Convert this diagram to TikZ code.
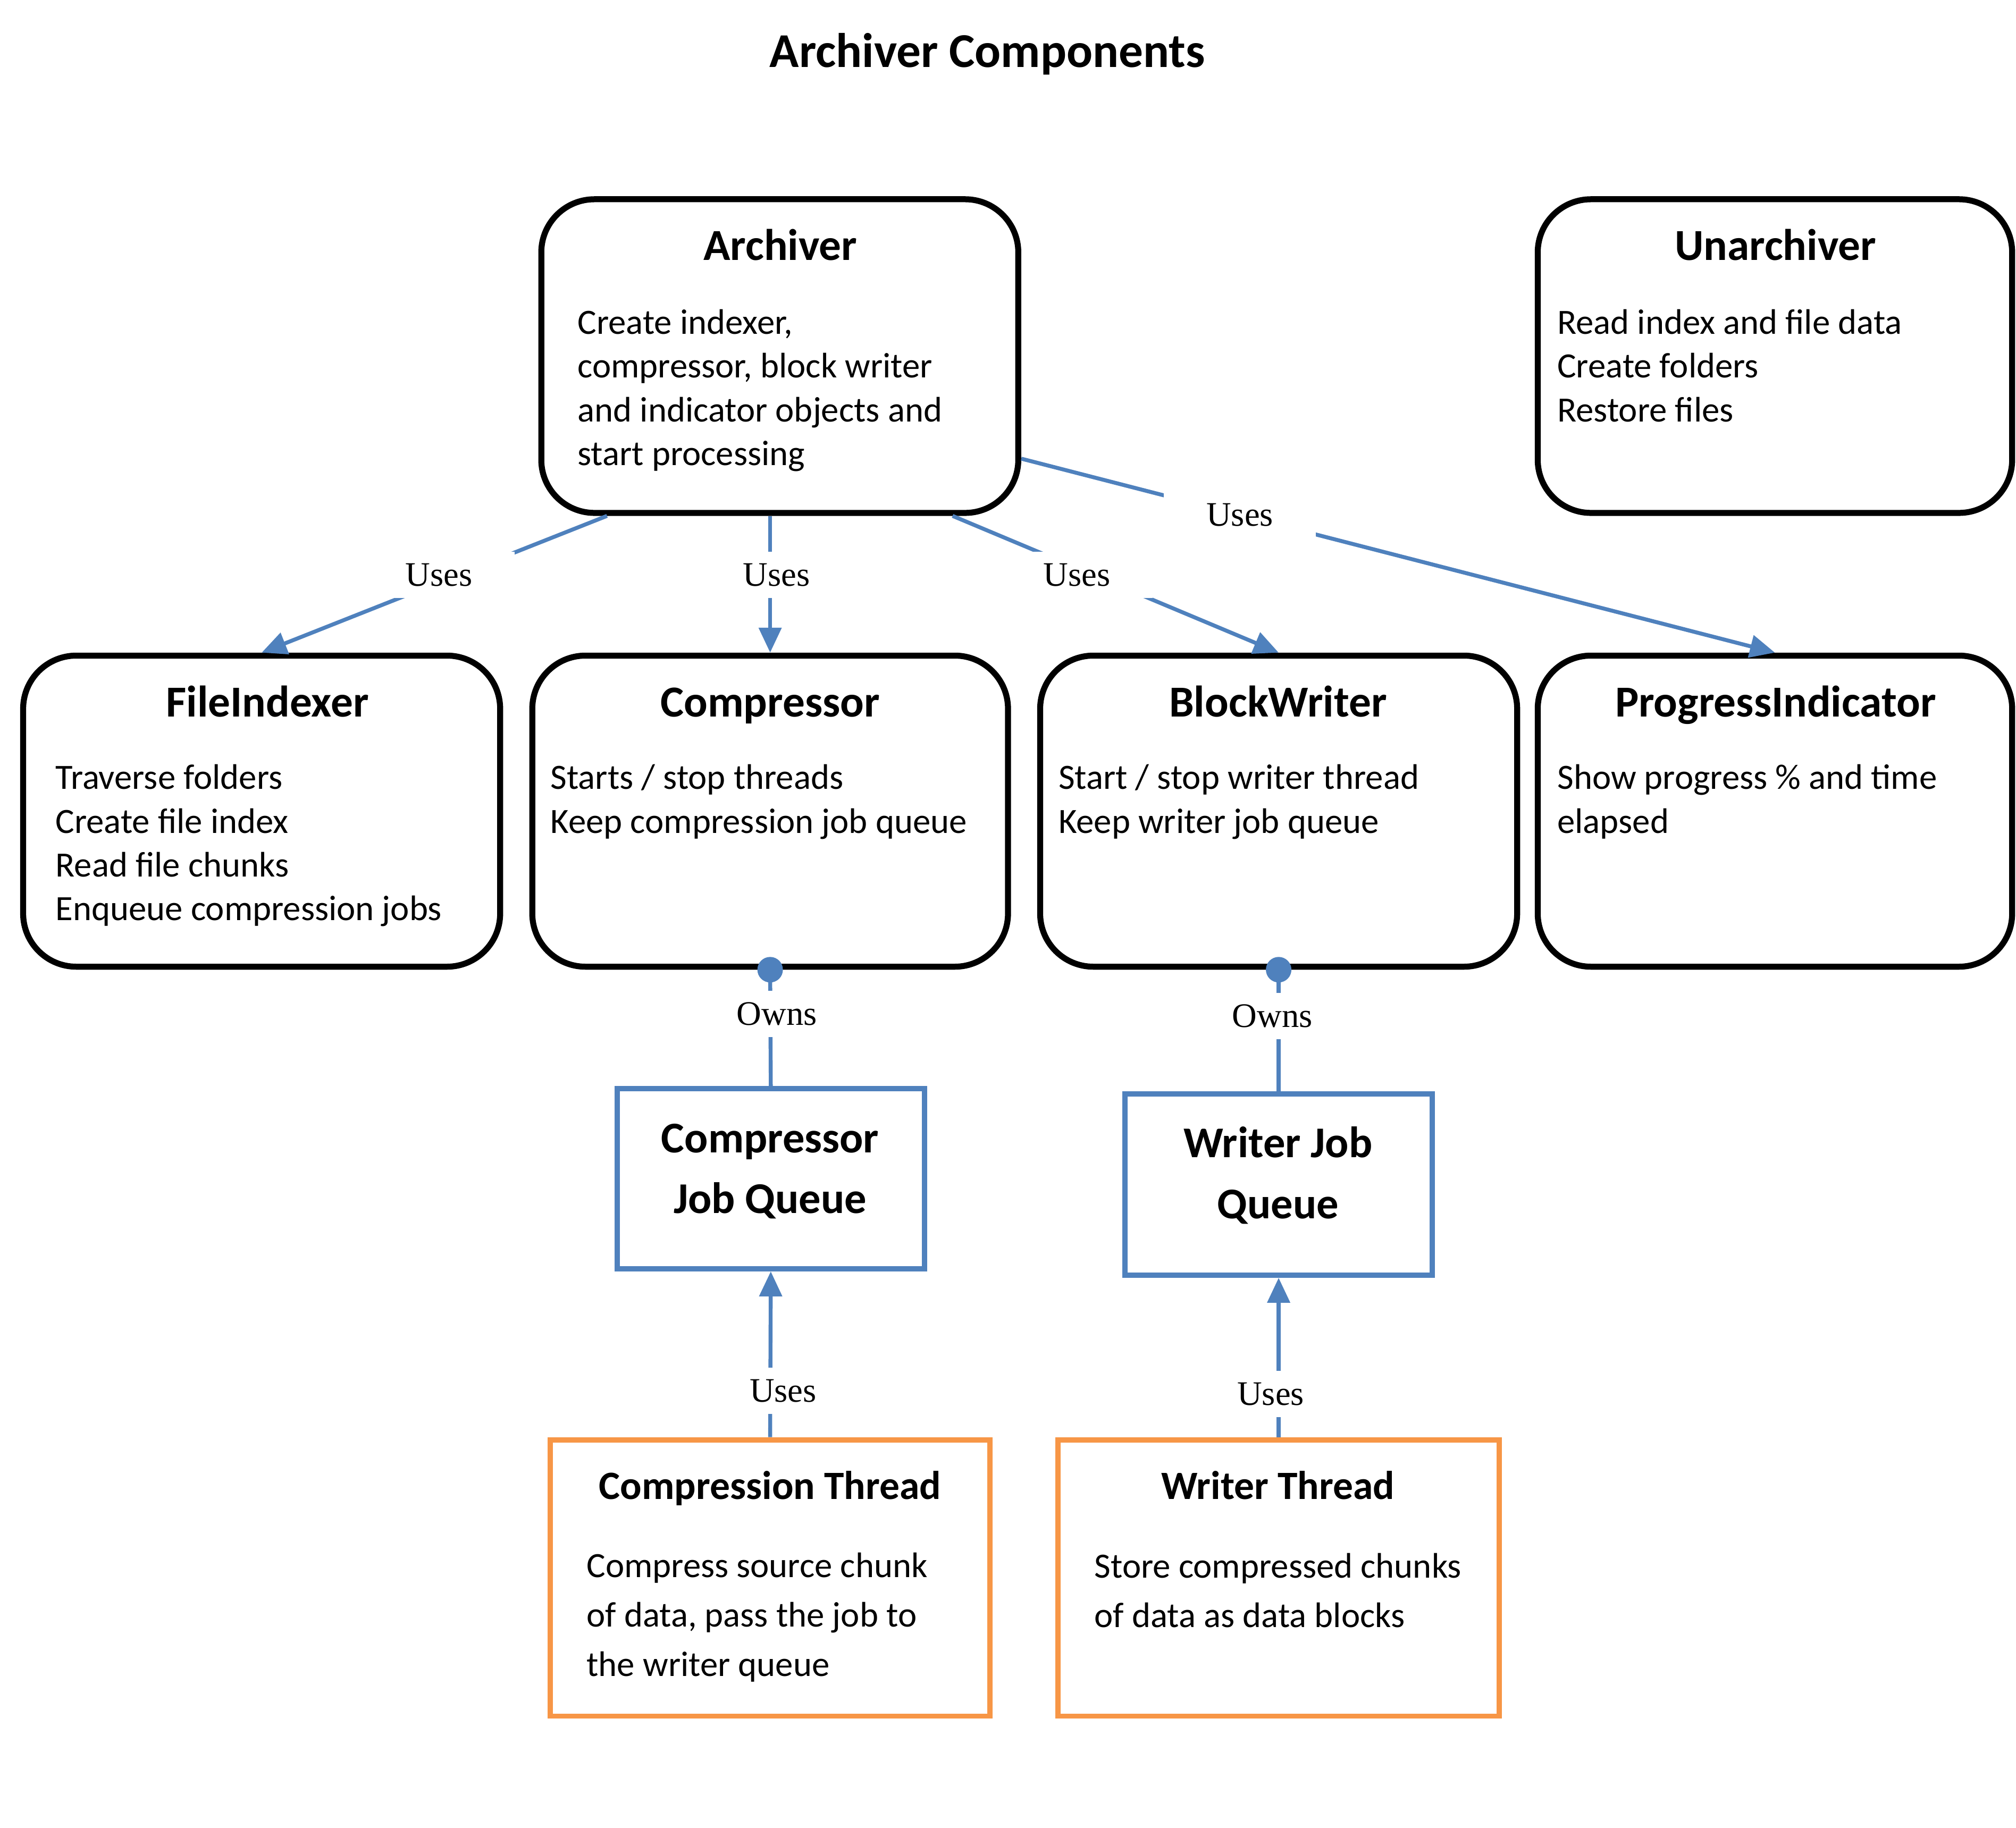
\documentclass[tikz,border=0pt]{standalone}
\usepackage{fontspec}
\setmainfont{Carlito}
\newfontfamily\lblfont{Liberation Serif}
\usetikzlibrary{arrows.meta,fit}
\definecolor{oblue}{HTML}{4F81BD}
\definecolor{oorange}{HTML}{F79646}
\begin{document}
\begin{tikzpicture}[x=0.02418cm,y=-0.02418cm,
 compbox/.style={draw=black,line width=3.2pt,rounded corners=1cm,inner sep=0pt},
 queuebox/.style={draw=oblue,line width=2.8pt,inner sep=0pt},
 threadbox/.style={draw=oorange,line width=2.8pt,inner sep=0pt},
 ttl/.style={font=\bfseries\fontsize{23.7}{28}\selectfont,anchor=mid,inner sep=0pt},
 thttl/.style={font=\bfseries\fontsize{21.5}{26}\selectfont,anchor=mid,inner sep=0pt},
 qttl/.style={font=\bfseries\fontsize{23.5}{32.7}\selectfont,align=center,anchor=base,inner sep=0pt},
 bodytxt/.style={font=\fontsize{19}{23.4}\selectfont,align=left,anchor=base west,inner sep=0pt},
 thbody/.style={font=\fontsize{19}{26.5}\selectfont,align=left,anchor=base west,inner sep=0pt},
 rel/.style={draw=oblue,line width=2.1pt},
 usesarrow/.style={rel,-{Triangle[length=0.47cm,width=0.42cm]}},
 lbl/.style={font=\lblfont\fontsize{18.4}{20}\selectfont,fill=white,inner xsep=0.8cm,inner ysep=0.22cm}]
\useasboundingbox (0,0) rectangle (1568,1422);

% title
\node[font=\bfseries\fontsize{26}{30}\selectfont] (title) at (768,42) {Archiver Components};

% component boxes
\node[compbox,fit={(421,155)(792,399)}] (arch) {};
\node[compbox,fit={(1196,155)(1565,399)}] (unarch) {};
\node[compbox,fit={(18,510)(389,752)}] (fi) {};
\node[compbox,fit={(414,510)(784,752)}] (comp) {};
\node[compbox,fit={(809,510)(1180,752)}] (bw) {};
\node[compbox,fit={(1196,510)(1565,752)}] (pi) {};
\node[queuebox,fit={(480,847)(719,987)}] (cjq) {};
\node[queuebox,fit={(875,851)(1114,992)}] (wjq) {};
\node[threadbox,fit={(428,1120)(770,1335)}] (ct) {};
\node[threadbox,fit={(823,1120)(1166,1335)}] (wt) {};

% texts (multi-line nodes are anchored at the baseline of their last line)
\node[ttl] (archT) at (607,199) {Archiver};
\node[bodytxt] (archB) at (449,362) {Create indexer,\\compressor, block writer\\and indicator objects and\\start processing};
\node[ttl] (unarchT) at (1381,199) {Unarchiver};
\node[bodytxt] (unarchB) at (1211,328) {Read index and file data\\Create folders\\Restore files};
\node[ttl] (fiT) at (208,554) {FileIndexer};
\node[bodytxt] (fiB) at (43,716) {Traverse folders\\Create file index\\Read file chunks\\Enqueue compression jobs};
\node[ttl] (compT) at (599,554) {Compressor};
\node[bodytxt] (compB) at (428,648) {Starts / stop threads\\Keep compression job queue};
\node[ttl] (bwT) at (994,554) {BlockWriter};
\node[bodytxt] (bwB) at (823,648) {Start / stop writer thread\\Keep writer job queue};
\node[ttl] (piT) at (1381,554) {ProgressIndicator};
\node[bodytxt] (piB) at (1211,648) {Show progress \% and time\\elapsed};
\node[qttl] (cjqT) at (599,944) {Compressor\\Job Queue};
\node[qttl] (wjqT) at (994,948) {Writer Job\\Queue};
\node[thttl] (ctT) at (599,1163) {Compression Thread};
\node[thbody] (ctB) at (456,1304) {Compress source chunk\\of data, pass the job to\\the writer queue};
\node[thttl] (wtT) at (994,1163) {Writer Thread};
\node[thbody] (wtB) at (851,1266) {Store compressed chunks\\of data as data blocks};

% connectors
\draw[usesarrow] ([xshift=-3.25cm]arch.south) -- node[lbl,pos=0.43,xshift=-0.37cm] (u1) {Uses} (fi.north);
\draw[usesarrow] (arch.south -| comp.north) -- node[lbl,pos=0.43,xshift=0.12cm] (u2) {Uses} (comp.north);
\draw[usesarrow] ([xshift=3.25cm]arch.south) -- node[lbl,pos=0.43,xshift=-0.3cm] (u3) {Uses} (bw.north);
\draw[usesarrow] ([yshift=-1.93cm]arch.east) -- node[lbl,pos=0.29] (u4) {Uses} (pi.north);

\draw[rel] (comp.south) -- node[lbl,pos=0.38,xshift=0.12cm] (o1) {Owns} (cjq.north);
\fill[oblue] (comp.south) circle (0.24cm);
\draw[rel] (bw.south) -- node[lbl,pos=0.38,xshift=-0.12cm] (o2) {Owns} (wjq.north);
\fill[oblue] (bw.south) circle (0.24cm);

\draw[usesarrow] (ct.north) -- node[lbl,pos=0.28,xshift=0.24cm] (u5) {Uses} (cjq.south);
\draw[usesarrow] (wt.north) -- node[lbl,pos=0.27,xshift=-0.15cm] (u6) {Uses} (wjq.south);
\end{tikzpicture}
\end{document}
